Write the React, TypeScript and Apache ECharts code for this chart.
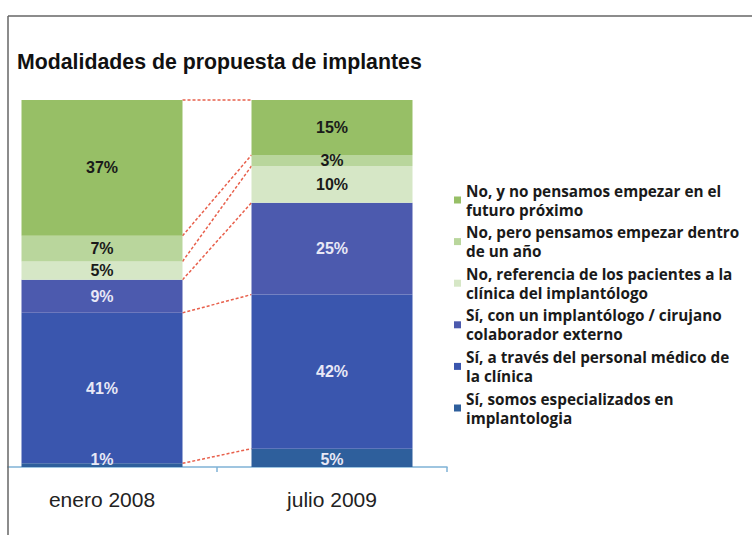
import React, { useEffect, useRef } from "react";
import * as echarts from "echarts";

const categories = ["enero 2008", "julio 2009"];

// series from bottom of stack to top
const seriesNames = [
  "Sí, somos especializados en implantologia",
  "Sí, a través del personal médico de la clínica",
  "Sí, con un implantólogo / cirujano colaborador externo",
  "No, referencia de los pacientes a la clínica del implantólogo",
  "No, pero pensamos empezar dentro de un año",
  "No, y no pensamos empezar en el futuro próximo",
];
const legendLines: Record<string, string> = {
  "Sí, somos especializados en implantologia": "Sí, somos especializados en\nimplantologia",
  "Sí, a través del personal médico de la clínica": "Sí, a través del personal médico de\nla clínica",
  "Sí, con un implantólogo / cirujano colaborador externo": "Sí, con un implantólogo / cirujano\ncolaborador externo",
  "No, referencia de los pacientes a la clínica del implantólogo": "No, referencia de los pacientes a la\nclínica del implantólogo",
  "No, pero pensamos empezar dentro de un año": "No, pero pensamos empezar dentro\nde un año",
  "No, y no pensamos empezar en el futuro próximo": "No, y no pensamos empezar en el\nfuturo próximo",
};

const especializados = [1, 5];
const personalMedico = [41, 42];
const colaboradorExterno = [9, 25];
const referencia = [5, 10];
const dentroDeUnAno = [7, 3];
const noPensamos = [37, 15];

const seriesValues = [especializados, personalMedico, colaboradorExterno, referencia, dentroDeUnAno, noPensamos];
const seriesColors = ["#2e5f9c", "#3a56ae", "#4c5aae", "#d6e7c6", "#b9d69c", "#97bf66"];
const labelColors = ["#e8e8f6", "#e8e8f6", "#e8e8f6", "#1a1a1a", "#1a1a1a", "#1a1a1a"];

const BAR_WIDTH = 161;

export default function App() {
  const ref = useRef<HTMLDivElement>(null);
  useEffect(() => {
    if (!ref.current) return;
    const chart = echarts.init(ref.current, undefined, { renderer: "svg" });

    // cumulative boundaries for connector lines
    const connectors: number[][] = [];
    let cA = 0;
    let cB = 0;
    seriesValues.forEach((vals) => {
      cA += vals[0];
      cB += vals[1];
      connectors.push([0, cA, cB]);
    });

    const barSeries = seriesNames.map((name, i) => ({
      name,
      type: "bar",
      stack: "total",
      barWidth: BAR_WIDTH,
      data: seriesValues[i],
      itemStyle: { color: seriesColors[i] },
      label: {
        show: true,
        position: i === 0 ? "insideBottom" : "inside",
        distance: 0,
        formatter: "{c}%",
        color: labelColors[i],
        fontFamily: "Liberation Sans, Arial, sans-serif",
        fontWeight: "bold",
        fontSize: 16,
      },
    }));

    chart.setOption({
      animation: false,
      backgroundColor: "#ffffff",
      title: {
        text: "Modalidades de propuesta de implantes",
        left: 17,
        top: 51,
        padding: 0,
        textStyle: {
          fontFamily: "Liberation Sans, Arial, sans-serif",
          fontWeight: "bold",
          fontSize: 21.3,
          color: "#111111",
        },
      },
      legend: {
        orient: "vertical",
        left: 449,
        top: 166.5,
        itemWidth: 7,
        itemHeight: 7,
        itemGap: -15.4,
        icon: "rect",
        data: [...seriesNames].reverse(),
        formatter: (n: string) => legendLines[n] || n,
        textStyle: {
          fontFamily: "Open Sans, sans-serif",
          fontWeight: "bold",
          fontSize: 15.3,
          lineHeight: 19,
          color: "#1a1a1a",
          padding: [19, 0, 0, 0],
        },
      },
      grid: { left: -13, width: 460, top: 100, bottom: 68, containLabel: false, outerBoundsMode: "none" },
      xAxis: {
        type: "category",
        data: categories,
        axisLine: { show: true, lineStyle: { color: "#7fb2d6", width: 1.5 } },
        axisTick: { show: true, length: 5, lineStyle: { color: "#7fb2d6", width: 1.5 } },
        axisLabel: {
          margin: 22,
          fontFamily: "Liberation Sans, Arial, sans-serif",
          fontSize: 21,
          color: "#222222",
        },
      },
      yAxis: { type: "value", min: 0, max: 100, show: false },
      graphic: [
        { type: "rect", shape: { x: 0, y: 0, width: 7.25, height: 535 }, style: { fill: "#ffffff" }, z: 100 },
        { type: "line", shape: { x1: 8, y1: 16, x2: 752, y2: 16 }, style: { stroke: "#666666", lineWidth: 1.5 }, z: 101 },
        { type: "line", shape: { x1: 8, y1: 16, x2: 8, y2: 535 }, style: { stroke: "#666666", lineWidth: 1.5 }, z: 101 },
      ],
      series: [
        ...barSeries,
        {
          type: "custom",
          name: "connectors",
          clip: false,
          silent: true,
          encode: { x: 0, y: 1 },
          data: connectors,
          renderItem: (params: any, api: any) => {
            const a = api.coord([0, api.value(1)]);
            const b = api.coord([1, api.value(2)]);
            const half = BAR_WIDTH / 2;
            return {
              type: "line",
              shape: { x1: a[0] + half, y1: a[1], x2: b[0] - half, y2: b[1] },
              style: { stroke: "#e8604c", lineWidth: 1.5, lineDash: [3, 2] },
            };
          },
        },
      ],
    } as any);
    return () => chart.dispose();
  }, []);
  return <div ref={ref} style={{ position: "fixed", left: 0, top: 0, width: 752, height: 535 }} />;
}
